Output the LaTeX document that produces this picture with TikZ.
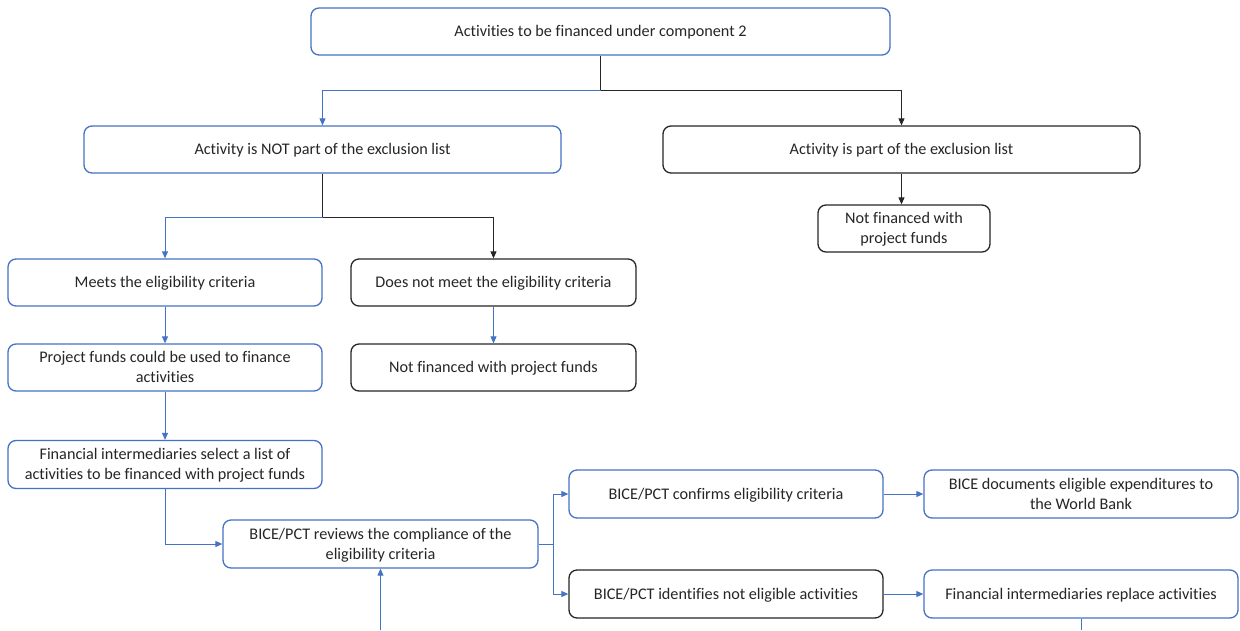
\documentclass[tikz,border=0pt]{standalone}
\usepackage{fontspec}
\setmainfont{Carlito}[Ligatures=NoCommon]
\usetikzlibrary{arrows.meta}
\definecolor{flowblue}{HTML}{4472C4}
\definecolor{flowdark}{HTML}{262626}
\begin{document}
\begin{tikzpicture}[x=1pt,y=1pt,
  box/.style={draw, rounded corners=8pt, line width=1.3pt, fill=white,
    inner sep=2pt, align=center, font=\fontsize{16.2}{20}\selectfont,
    text=flowdark, text depth=0.5pt},
  bluebox/.style={box, draw=flowblue},
  darkbox/.style={box, draw=flowdark},
  conn/.style={line width=0.9pt},
  blueconn/.style={conn, draw=flowblue},
  darkconn/.style={conn, draw=flowdark},
  tip/.style={-{Triangle[length=7pt,width=6pt]}}
]
\useasboundingbox (0,0) rectangle (1240,-630);

% boxes
\node[bluebox, minimum width=579pt, minimum height=47pt] (top) at (600.5,-31.5)
  {Activities to be financed under component 2};
\node[bluebox, minimum width=477pt, minimum height=47pt] (notex) at (322.5,-149.5)
  {Activity is NOT part of the exclusion list};
\node[darkbox, minimum width=477pt, minimum height=47pt] (excl) at (901.5,-149.5)
  {Activity is part of the exclusion list};
\node[darkbox, minimum width=172pt, minimum height=47pt] (nfr) at (904,-228.5)
  {Not financed with\\project funds};
\node[bluebox, minimum width=314pt, minimum height=47pt] (meets) at (165,-282.5)
  {Meets the eligibility criteria};
\node[darkbox, minimum width=285pt, minimum height=47pt] (notmeet) at (493.5,-282.5)
  {Does not meet the eligibility criteria};
\node[bluebox, minimum width=314pt, minimum height=47pt] (funds) at (165,-367.5)
  {Project funds could be used to finance\\activities};
\node[darkbox, minimum width=285pt, minimum height=47pt] (nfm) at (493.5,-367.5)
  {Not financed with project funds};
\node[bluebox, minimum width=314pt, minimum height=48pt] (select) at (165,-464.5)
  {Financial intermediaries select a list of\\activities to be financed with project funds};
\node[bluebox, minimum width=315pt, minimum height=48pt] (review) at (380.5,-544)
  {BICE/PCT reviews the compliance of the\\eligibility criteria};
\node[bluebox, minimum width=314pt, minimum height=48pt] (confirm) at (726,-494)
  {BICE/PCT confirms eligibility criteria};
\node[bluebox, minimum width=314pt, minimum height=48pt] (docs) at (1081,-494)
  {BICE documents eligible expenditures to\\the World Bank};
\node[darkbox, minimum width=314pt, minimum height=48pt] (ident) at (726,-594)
  {BICE/PCT identifies not eligible activities};
\node[bluebox, minimum width=314pt, minimum height=48pt] (replace) at (1081,-594)
  {Financial intermediaries replace activities};

% branch points
\path (top.south) ++(0,-35) coordinate (j1);
\path (notex.south) ++(0,-44) coordinate (j2);
\path (review.east) ++(15,0) coordinate (j3);
\coordinate (loopin) at (review.south |- 0,-630);
\coordinate (loopout) at (replace.south |- 0,-630);

% connectors
\draw[darkconn] (top.south) -- (j1);
\draw[blueconn, tip] (j1) -| (notex.north);
\draw[darkconn, tip] (j1) -| (excl.north);
\draw[darkconn, tip] (excl.south) -- (excl.south |- nfr.north);

\draw[darkconn] (notex.south) -- (j2);
\draw[blueconn, tip] (j2) -| (meets.north);
\draw[darkconn, tip] (j2) -| (notmeet.north);

\draw[blueconn, tip] (meets) -- (funds);
\draw[blueconn, tip] (notmeet) -- (nfm);
\draw[blueconn, tip] (funds) -- (select);
\draw[blueconn, tip] (select.south) |- (review.west);

\draw[blueconn] (review.east) -- (j3);
\draw[blueconn, tip] (j3) |- (confirm.west);
\draw[blueconn, tip] (j3) |- (ident.west);
\draw[blueconn, tip] (confirm) -- (docs);
\draw[blueconn, tip] (ident) -- (replace);

\draw[blueconn] (replace.south) -- (loopout);
\draw[blueconn, tip] (loopin) -- (review.south);
\end{tikzpicture}
\end{document}
